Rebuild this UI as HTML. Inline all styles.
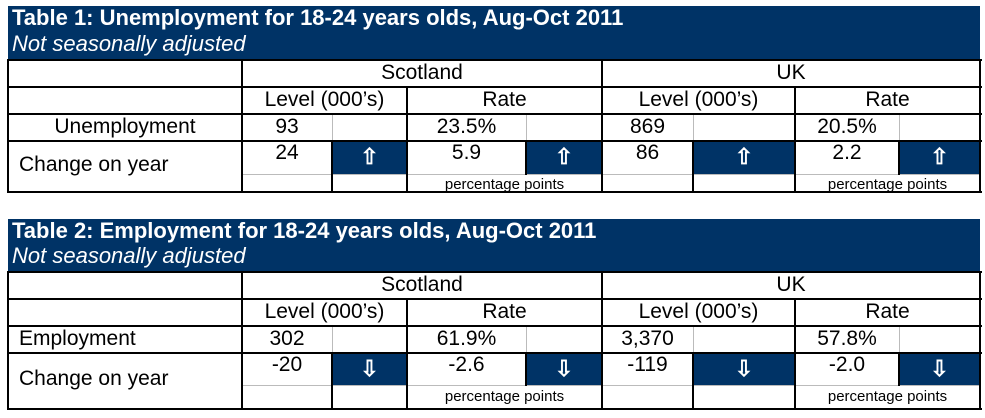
<!DOCTYPE html>
<html><head><meta charset="utf-8"><style>
body{margin:0;width:985px;height:418px;background:#fff;position:relative;overflow:hidden;font-family:"Liberation Sans",Arial,sans-serif;color:#000}
div{position:absolute;box-sizing:border-box}
.hd{background:#003366;color:#fff;left:8px;width:972px}
.t{font-weight:bold;font-size:22px;left:12px;white-space:nowrap}
.s{font-style:italic;font-size:22px;left:12px;white-space:nowrap}
.h{background:#000;height:2px}
.v{background:#000;width:2px}
.g{background:#bbb}
.bl{background:#003366}
.tx{font-size:21px;white-space:nowrap;text-align:center}
.ar{color:#fff;font-size:22px;text-align:center;font-weight:bold}
.pp{font-size:15px;white-space:nowrap;text-align:center;line-height:15px;overflow:hidden;height:15px}
</style></head><body>

<!-- TABLE 1 -->
<div class="hd" style="top:6px;height:54px"></div>
<div class="t" style="color:#fff;top:5px">Table 1: Unemployment for 18-24 years olds, Aug-Oct 2011</div>
<div class="s" style="color:#fff;top:31px">Not seasonally adjusted</div>
<div class="bl" style="left:332px;top:142px;width:75px;height:32px"></div>
<div class="bl" style="left:526px;top:142px;width:76px;height:32px"></div>
<div class="bl" style="left:693px;top:142px;width:102px;height:32px"></div>
<div class="bl" style="left:899px;top:142px;width:81px;height:32px"></div>
<div class="g" style="left:332px;top:114px;width:1px;height:28px"></div>
<div class="g" style="left:526px;top:114px;width:1px;height:28px"></div>
<div class="g" style="left:693px;top:114px;width:1px;height:28px"></div>
<div class="g" style="left:899px;top:114px;width:1px;height:28px"></div>
<div class="g" style="left:242px;top:174px;width:738px;height:1px"></div>
<div class="h" style="left:8px;top:59px;width:974px"></div>
<div class="h" style="left:8px;top:86px;width:974px"></div>
<div class="h" style="left:8px;top:113px;width:974px"></div>
<div class="h" style="left:8px;top:140px;width:974px"></div>
<div class="h" style="left:8px;top:191px;width:974px"></div>
<div class="v" style="left:7px;top:59px;height:134px"></div>
<div class="v" style="left:241px;top:59px;height:134px"></div>
<div class="v" style="left:601px;top:59px;height:134px"></div>
<div class="v" style="left:979px;top:59px;height:134px"></div>
<div class="v" style="left:406px;top:86px;height:107px"></div>
<div class="v" style="left:794px;top:86px;height:107px"></div>
<div class="v" style="left:331px;top:141px;height:52px"></div>
<div class="v" style="left:525px;top:141px;height:34px"></div>
<div class="v" style="left:692px;top:141px;height:52px"></div>
<div class="v" style="left:898px;top:141px;height:34px"></div>
<div class="tx" style="left:242px;width:360px;top:61px">Scotland</div>
<div class="tx" style="left:602px;width:378px;top:61px">UK</div>
<div class="tx" style="left:242px;width:165px;top:88px">Level (000’s)</div>
<div class="tx" style="left:407px;width:195px;top:88px">Rate</div>
<div class="tx" style="left:602px;width:193px;top:88px">Level (000’s)</div>
<div class="tx" style="left:795px;width:185px;top:88px">Rate</div>
<div class="tx" style="left:8px;width:234px;top:115px">Unemployment</div>
<div class="tx" style="left:242px;width:90px;top:115px">93</div>
<div class="tx" style="left:407px;width:119px;top:115px">23.5%</div>
<div class="tx" style="left:602px;width:91px;top:115px">869</div>
<div class="tx" style="left:795px;width:104px;top:115px">20.5%</div>
<div class="tx" style="left:19px;top:153px">Change on year</div>
<div class="tx" style="left:242px;width:90px;top:141px">24</div>
<div class="tx" style="left:407px;width:119px;top:141px">5.9</div>
<div class="tx" style="left:602px;width:91px;top:141px">86</div>
<div class="tx" style="left:795px;width:104px;top:141px">2.2</div>
<div class="ar" style="left:332px;width:75px;top:144px">⇧</div>
<div class="ar" style="left:526px;width:76px;top:144px">⇧</div>
<div class="ar" style="left:693px;width:102px;top:144px">⇧</div>
<div class="ar" style="left:899px;width:81px;top:144px">⇧</div>
<div class="pp" style="left:407px;width:195px;top:177px">percentage points</div>
<div class="pp" style="left:795px;width:185px;top:177px">percentage points</div>

<!-- TABLE 2 -->
<div class="hd" style="top:219px;height:53px"></div>
<div class="t" style="color:#fff;top:218px">Table 2: Employment for 18-24 years olds, Aug-Oct 2011</div>
<div class="s" style="color:#fff;top:243px">Not seasonally adjusted</div>
<div class="bl" style="left:332px;top:354px;width:75px;height:31px"></div>
<div class="bl" style="left:526px;top:354px;width:76px;height:31px"></div>
<div class="bl" style="left:693px;top:354px;width:102px;height:31px"></div>
<div class="bl" style="left:899px;top:354px;width:81px;height:31px"></div>
<div class="g" style="left:332px;top:326px;width:1px;height:28px"></div>
<div class="g" style="left:526px;top:326px;width:1px;height:28px"></div>
<div class="g" style="left:693px;top:326px;width:1px;height:28px"></div>
<div class="g" style="left:899px;top:326px;width:1px;height:28px"></div>
<div class="g" style="left:242px;top:385px;width:738px;height:1px"></div>
<div class="h" style="left:8px;top:271px;width:974px"></div>
<div class="h" style="left:8px;top:298px;width:974px"></div>
<div class="h" style="left:8px;top:325px;width:974px"></div>
<div class="h" style="left:8px;top:352px;width:974px"></div>
<div class="h" style="left:8px;top:408px;width:974px"></div>
<div class="v" style="left:7px;top:271px;height:139px"></div>
<div class="v" style="left:241px;top:271px;height:139px"></div>
<div class="v" style="left:601px;top:271px;height:139px"></div>
<div class="v" style="left:979px;top:271px;height:139px"></div>
<div class="v" style="left:406px;top:298px;height:112px"></div>
<div class="v" style="left:794px;top:298px;height:112px"></div>
<div class="v" style="left:331px;top:353px;height:57px"></div>
<div class="v" style="left:525px;top:353px;height:33px"></div>
<div class="v" style="left:692px;top:353px;height:57px"></div>
<div class="v" style="left:898px;top:353px;height:33px"></div>
<div class="tx" style="left:242px;width:360px;top:273px">Scotland</div>
<div class="tx" style="left:602px;width:378px;top:273px">UK</div>
<div class="tx" style="left:242px;width:165px;top:300px">Level (000’s)</div>
<div class="tx" style="left:407px;width:195px;top:300px">Rate</div>
<div class="tx" style="left:602px;width:193px;top:300px">Level (000’s)</div>
<div class="tx" style="left:795px;width:185px;top:300px">Rate</div>
<div class="tx" style="left:19px;top:327px">Employment</div>
<div class="tx" style="left:242px;width:90px;top:327px">302</div>
<div class="tx" style="left:407px;width:119px;top:327px">61.9%</div>
<div class="tx" style="left:602px;width:91px;top:327px">3,370</div>
<div class="tx" style="left:795px;width:104px;top:327px">57.8%</div>
<div class="tx" style="left:19px;top:367px">Change on year</div>
<div class="tx" style="left:242px;width:90px;top:353px">-20</div>
<div class="tx" style="left:407px;width:119px;top:353px">-2.6</div>
<div class="tx" style="left:602px;width:91px;top:353px">-119</div>
<div class="tx" style="left:795px;width:104px;top:353px">-2.0</div>
<div class="ar" style="left:332px;width:75px;top:356px">⇩</div>
<div class="ar" style="left:526px;width:76px;top:356px">⇩</div>
<div class="ar" style="left:693px;width:102px;top:356px">⇩</div>
<div class="ar" style="left:899px;width:81px;top:356px">⇩</div>
<div class="pp" style="left:407px;width:195px;top:389px">percentage points</div>
<div class="pp" style="left:795px;width:185px;top:389px">percentage points</div>
</body></html>
